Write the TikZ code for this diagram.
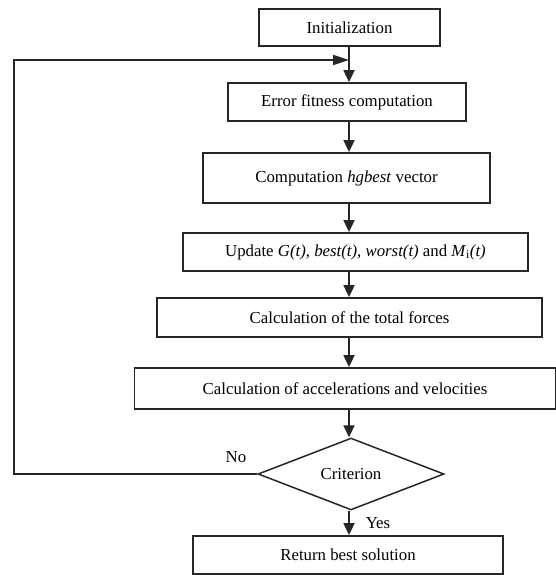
\documentclass[tikz,border=0pt]{standalone}
\usepackage{fontspec}
\setmainfont{Liberation Serif}
\usetikzlibrary{shapes.geometric,arrows.meta}
\begin{document}
\begin{tikzpicture}[x=1pt,y=-1pt,
  box/.style={draw=black!85,line width=1.8pt,rectangle,inner sep=0pt,font=\fontsize{16.8}{19}\selectfont},
  dec/.style={draw=black!85,line width=1.5pt,diamond,inner sep=0pt,font=\fontsize{16.8}{19}\selectfont},
  lbl/.style={inner sep=0pt,font=\fontsize{16.8}{19}\selectfont},
  flow/.style={draw=black!85,line width=1.8pt,-{Triangle[length=12pt,width=11pt]}},
  backflow/.style={draw=black!85,line width=1.8pt,-{Triangle[length=16pt,width=10pt]}},
  link/.style={draw=black!85,line width=1.8pt}]
\useasboundingbox[fill=white] (0,0) rectangle (556,575);
\node[box,minimum width=181,minimum height=37] (init) at (349.5,27.5) {Initialization};
\node[box,minimum width=238,minimum height=38] (err) at (347,102) {Error fitness computation};
\node[box,minimum width=287,minimum height=50] (hg) at (346.5,178) {Computation \textit{hgbest} vector};
\node[box,minimum width=345,minimum height=38] (upd) at (355.5,252) {Update \textit{G(t)}, \textit{best(t)}, \textit{worst(t)} and \textit{M}\textsubscript{i}\textit{(t)}};
\node[box,minimum width=385,minimum height=39] (tot) at (349.5,317.5) {Calculation of the total forces};
\node[box,minimum width=421,minimum height=41] (acc) at (345,388.5) {Calculation of accelerations and velocities};
\node[dec,minimum width=186,minimum height=67] (crit) at (351,474) {Criterion};
\node[box,minimum width=310,minimum height=38] (ret) at (348,555) {Return best solution};
\coordinate (corner) at (14,474);
\coordinate (join) at (349,60);
\node[lbl] (no) at (236,457) {No};
\node[lbl] (yes) at (378,523) {Yes};
\draw[flow] (join) -- (join |- err.north);
\draw[link] (init.south -| join) -- (join);
\draw[flow] (err.south -| join) -- (join |- hg.north);
\draw[flow] (hg.south -| join) -- (join |- upd.north);
\draw[flow] (upd.south -| join) -- (join |- tot.north);
\draw[flow] (tot.south -| join) -- (join |- acc.north);
\draw[flow] (acc.south -| join) -- (join |- crit.north);
\draw[flow] (join |- crit.south) -- (join |- ret.north);
\draw[backflow] (crit.west) -- (corner) |- (join);
\end{tikzpicture}
\end{document}
